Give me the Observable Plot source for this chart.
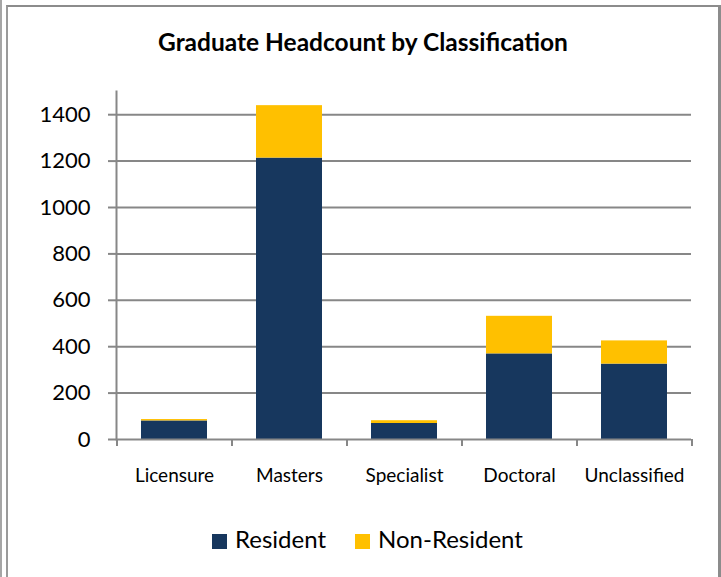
<!DOCTYPE html>
<html>
<head>
<meta charset="utf-8">
<script src="https://cdn.jsdelivr.net/npm/d3@7"></script>
<script src="https://cdn.jsdelivr.net/npm/@observablehq/plot@0.6"></script>
<style>
  html, body { margin: 0; padding: 0; background: #fff; }
  #page { position: relative; width: 721px; height: 577px; overflow: hidden; font-family: Lato, "Open Sans", sans-serif; }
  #edge { position: absolute; left: 0; top: 0; width: 2px; height: 577px; background: #a6a6a6; }
  #frame { position: absolute; left: 6px; top: 5px; width: 710px; height: 580px; border-left: 2px solid #9a9a9a; border-top: 2px solid #8c8c8c; border-right: 3px solid #8c8c8c; }
  #title { position: absolute; left: 0; top: 27px; width: 726px; text-align: center; font-weight: 700; font-size: 24.5px; line-height: 30px; color: #000; white-space: nowrap; }
  #chart { position: absolute; left: 0; top: 80px; }
  #legend { position: absolute; left: 212px; top: 525px; display: flex; align-items: center; font-size: 24px; line-height: 28px; color: #000; white-space: nowrap; }
  .sw { display: inline-block; width: 15px; height: 15px; margin-right: 8px; position: relative; top: 2px; }
  .item { display: flex; align-items: center; margin-right: 29px; }
</style>
</head>
<body>
<div id="page">
  <div id="edge"></div>
  <div id="frame"></div>
  <div id="title">Graduate Headcount by Classification</div>
  <div id="chart"></div>
  <div id="legend"></div>
</div>
<script>
const categories = ["Licensure", "Masters", "Specialist", "Doctoral", "Unclassified"];
const series = ["Resident", "Non-Resident"];
const resident = [80, 1213, 69, 369, 325];
const nonResident = [6, 226, 12, 162, 100];
const yTicks = [0, 200, 400, 600, 800, 1000, 1200, 1400];
const colors = ["#17375E", "#FFC000"];

const rows = [];
categories.forEach((c, i) => {
  rows.push({category: c, series: series[0], value: resident[i]});
  rows.push({category: c, series: series[1], value: nonResident[i]});
});

const W = 721, H = 430, ML = 116, MR = 30, MT = 11, MB = 71;
const step = (W - ML - MR) / categories.length;
const grey = "#878787";

const chart = Plot.plot({
  width: W,
  height: H,
  marginLeft: ML,
  marginRight: MR,
  marginTop: MT,
  marginBottom: MB,
  style: {fontFamily: "Lato, 'Open Sans', sans-serif", color: "#000", background: "transparent"},
  x: {domain: categories, paddingInner: 0.43, paddingOuter: 0.215, label: null},
  y: {domain: [0, 1500], label: null},
  color: {domain: series, range: colors},
  marks: [
    Plot.gridY(yTicks.filter(d => d > 0), {stroke: grey, strokeOpacity: 1, strokeWidth: 2}),
    Plot.barY(rows, {x: "category", y: "value", fill: "series", order: series}),
    Plot.frame({anchor: "left", stroke: grey, strokeWidth: 2}),
    Plot.ruleY([0], {stroke: grey, strokeWidth: 2}),
    Plot.ruleX(categories, {x: d => d, y1: 0, y2: 0, insetBottom: -7, dx: -step / 2, stroke: grey, strokeWidth: 2}),
    Plot.ruleX(categories.slice(-1), {x: d => d, y1: 0, y2: 0, insetBottom: -7, dx: step / 2, stroke: grey, strokeWidth: 2}),
    Plot.axisY({ticks: yTicks, tickSize: 8, tickPadding: 18, tickFormat: d => String(d), fontSize: 22, stroke: grey, strokeWidth: 2, strokeOpacity: 1}),
    Plot.axisX({tickSize: 0, tickPadding: 29, fontSize: 19})
  ]
});
document.getElementById("chart").appendChild(chart);

const legend = document.getElementById("legend");
series.forEach((s, i) => {
  const item = document.createElement("span");
  item.className = "item";
  const sw = document.createElement("span");
  sw.className = "sw";
  sw.style.background = colors[i];
  item.appendChild(sw);
  item.appendChild(document.createTextNode(s));
  legend.appendChild(item);
});
</script>
</body>
</html>
